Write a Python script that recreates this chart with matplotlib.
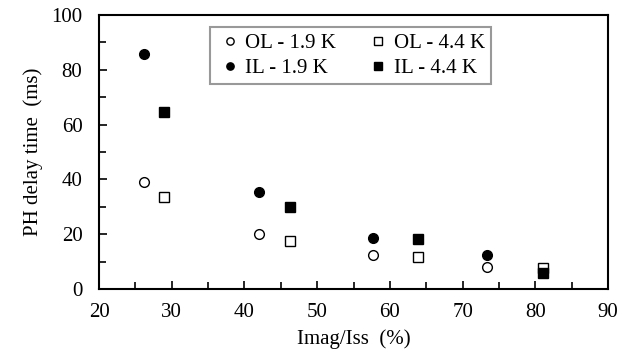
import numpy as np
import matplotlib.pyplot as plt
from matplotlib.ticker import MultipleLocator

plt.rcParams['font.family'] = ['Liberation Serif', 'DejaVu Serif']

# data
x_19 = [26.2, 42.0, 57.7, 73.4]
x_44 = [28.9, 46.3, 63.8, 81.1]
ol_19 = [39.0, 20.1, 12.4, 7.9]
ol_44 = [33.6, 17.5, 11.6, 7.8]
il_19 = [85.7, 35.4, 18.5, 12.5]
il_44 = [64.5, 30.0, 18.1, 6.0]

fig = plt.figure(figsize=(6.35, 3.57), dpi=100)
ax = fig.add_axes([0.156, 0.1905, 0.8015, 0.7675])

ms = 7
h1, = ax.plot(x_19, ol_19, 'o', ms=ms, mfc='white', mec='black', mew=1.0, label='OL - 1.9 K')
h2, = ax.plot(x_44, ol_44, 's', ms=ms, mfc='white', mec='black', mew=1.0, label='OL - 4.4 K')
h3, = ax.plot(x_19, il_19, 'o', ms=ms, mfc='black', mec='black', label='IL - 1.9 K')
h4, = ax.plot(x_44, il_44, 's', ms=ms, mfc='black', mec='black', label='IL - 4.4 K')

ax.set_xlim(20, 90)
ax.set_ylim(0, 100)
ax.xaxis.set_major_locator(MultipleLocator(10))
ax.xaxis.set_minor_locator(MultipleLocator(5))
ax.yaxis.set_major_locator(MultipleLocator(20))
ax.yaxis.set_minor_locator(MultipleLocator(10))
ax.tick_params(which='both', direction='in', labelsize=15, width=1.2, top=False, right=False)
ax.tick_params(which='major', length=6)
ax.tick_params(which='minor', length=5)
ax.tick_params(axis='x', pad=10)
ax.tick_params(axis='y', pad=12)
for s in ax.spines.values():
    s.set_linewidth(1.5)

ax.set_xlabel('Imag/Iss  (%)', fontsize=15, labelpad=5)
ax.set_ylabel('PH delay time  (ms)', fontsize=15, labelpad=6)

leg = ax.legend(handles=[h1, h3, h2, h4], ncol=2, loc='upper left',
                bbox_to_anchor=(0.218, 0.955), fontsize=15, frameon=True,
                fancybox=False, edgecolor='#808080', markerscale=0.75,
                handlelength=1.3, handletextpad=0.1, columnspacing=1.37,
                borderpad=0.3, labelspacing=0.25, borderaxespad=0)
leg.get_frame().set_linewidth(1.5)

fig.savefig('out.png', dpi=100)
